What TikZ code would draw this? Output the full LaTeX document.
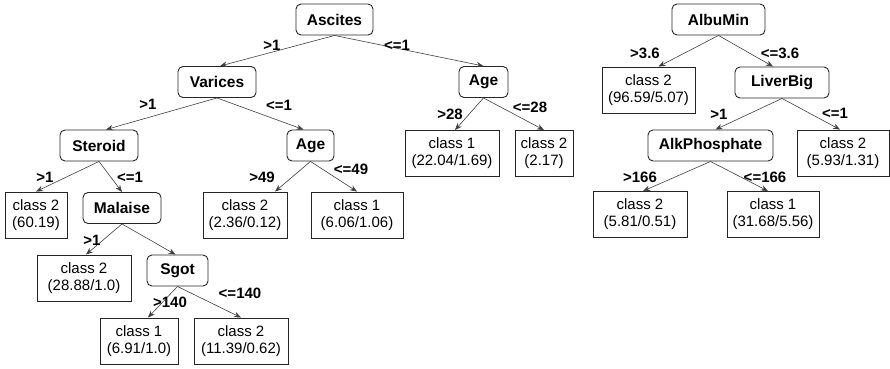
\documentclass[tikz,border=0pt]{standalone}
\usepackage{fontspec}
\setmainfont{Liberation Sans}
\usetikzlibrary{calc,arrows.meta}
\begin{document}
\begin{tikzpicture}[x=1pt,y=-1pt,
  inode/.style={draw=black!85, rounded corners=5pt, line width=0.9pt, font=\fontsize{15.5}{17}\selectfont\bfseries, minimum height=31pt, inner sep=0pt},
  leaf/.style={draw=black!85, line width=0.9pt, font=\fontsize{15}{17}\selectfont, minimum height=46pt, align=center, inner sep=0pt},
  lab/.style={font=\fontsize{15}{17}\selectfont\bfseries, inner sep=0pt},
  edge/.style={draw=black!75, line width=0.6pt, -{Stealth[length=7pt,width=5.5pt]}}]
\useasboundingbox (0,0) rectangle (890,368);
% left tree
\node[inode, minimum width=77pt] (asc) at (334.5,19.5) {Ascites};
\node[inode, minimum width=78pt] (var) at (217,82) {Varices};
\node[inode, minimum width=49pt] (agea) at (483.5,82) {Age};
\node[inode, minimum width=78pt] (ste) at (99,145.5) {Steroid};
\node[inode, minimum width=47pt] (ageb) at (310.5,145.5) {Age};
\node[leaf, minimum width=94pt] (l22) at (452,153.5) {class 1\\(22.04/1.69)};
\node[leaf, minimum width=58pt] (l217) at (544,153.5) {class 2\\(2.17)};
\node[leaf, minimum width=62pt] (l6019) at (36,215) {class 2\\(60.19)};
\node[inode, minimum width=78pt] (mal) at (122,208) {Malaise};
\node[leaf, minimum width=84pt] (l236) at (245,215) {class 2\\(2.36/0.12)};
\node[leaf, minimum width=92pt] (l606) at (357,215) {class 1\\(6.06/1.06)};
\node[leaf, minimum width=94pt] (l2888) at (84,278) {class 2\\(28.88/1.0)};
\node[inode, minimum width=61pt] (sgot) at (177.5,270.5) {Sgot};
\node[leaf, minimum width=78pt] (l691) at (139,341) {class 1\\(6.91/1.0)};
\node[leaf, minimum width=94pt] (l1139) at (241,341) {class 2\\(11.39/0.62)};
% right tree
\node[inode, minimum width=93pt] (alb) at (718.5,19.5) {AlbuMin};
\node[leaf, minimum width=93pt] (l9659) at (648.5,90) {class 2\\(96.59/5.07)};
\node[inode, minimum width=94pt] (liv) at (782,82.5) {LiverBig};
\node[inode, minimum width=125pt] (alk) at (710.5,145.5) {AlkPhosphate};
\node[leaf, minimum width=92pt] (l593) at (843,153) {class 2\\(5.93/1.31)};
\node[leaf, minimum width=94pt] (l581) at (640,214.5) {class 2\\(5.81/0.51)};
\node[leaf, minimum width=92pt] (l3168) at (773,214.5) {class 1\\(31.68/5.56)};
% edges
\draw[edge] (asc.south) -- ($(var.north)+(3,0)$);
\draw[edge] (asc.south) -- (agea.north);
\draw[edge] (var.south) -- ($(ste.north)+(7,0)$);
\draw[edge] (var.south) -- ($(ageb.north)+(-7,0)$);
\draw[edge] (agea.south) -- ($(l22.north)+(3,0)$);
\draw[edge] (agea.south) -- (l217.north);
\draw[edge] (ste.south) -- (l6019.north);
\draw[edge] (ste.south) -- (mal.north);
\draw[edge] (ageb.south) -- ($(l236.north)+(30,0)$);
\draw[edge] (ageb.south) -- (l606.north);
\draw[edge] (mal.south) -- ($(l2888.north)+(2,0)$);
\draw[edge] (mal.south) -- ($(sgot.north)+(-2,0)$);
\draw[edge] (sgot.south) -- ($(l691.north)+(9,0)$);
\draw[edge] (sgot.south) -- (l1139.north);
\draw[edge] (alb.south) -- ($(l9659.north)+(10,0)$);
\draw[edge] (alb.south) -- ($(liv.north)+(-9,0)$);
\draw[edge] (liv.south) -- ($(alk.north)+(5,0)$);
\draw[edge] (liv.south) -- ($(l593.north)+(-3,0)$);
\draw[edge] (alk.south) -- ($(l581.north)+(3,0)$);
\draw[edge] (alk.south) -- ($(l3168.north)+(-5,0)$);
% labels
\node[lab] (t1) at (272,45) {>1};
\node[lab] (t2) at (397,45) {<=1};
\node[lab] (t3) at (148,104) {>1};
\node[lab] (t4) at (279,105) {<=1};
\node[lab] (t5) at (450,114) {>28};
\node[lab] (t6) at (530,107) {<=28};
\node[lab] (t7) at (45,177) {>1};
\node[lab] (t8) at (130,177) {<=1};
\node[lab] (t9) at (262,177) {>49};
\node[lab] (t10) at (351,169) {<=49};
\node[lab] (t11) at (92,240) {>1};
\node[lab] (t12) at (170,302) {>140};
\node[lab] (t13) at (240,293) {<=140};
\node[lab] (t14) at (645,53) {>3.6};
\node[lab] (t15) at (780,53) {<=3.6};
\node[lab] (t16) at (719,114) {>1};
\node[lab] (t17) at (835,113) {<=1};
\node[lab] (t18) at (640,177) {>166};
\node[lab] (t19) at (765,177) {<=166};
\end{tikzpicture}
\end{document}
